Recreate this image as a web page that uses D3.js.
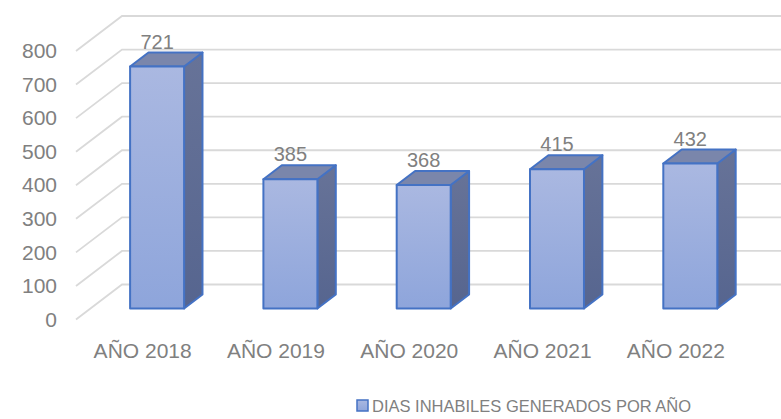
<!DOCTYPE html>
<html>
<head>
<meta charset="utf-8">
<script src="https://cdn.jsdelivr.net/npm/d3@7"></script>
<style>
  html, body { margin: 0; padding: 0; background: #fff; }
  svg { display: block; font-family: "Liberation Sans", Arial, sans-serif; }
</style>
</head>
<body>
<svg id="chart" width="781" height="419"></svg>
<script>
const categories = ["AÑO 2018", "AÑO 2019", "AÑO 2020", "AÑO 2021", "AÑO 2022"];
const values = [721, 385, 368, 415, 432];
const yTicks = [0, 100, 200, 300, 400, 500, 600, 700, 800];
const seriesName = "DIAS INHABILES GENERADOS POR AÑO";

const svg = d3.select("#chart");
const W = 781;

// front-plane scales
const x = d3.scaleBand().domain(categories).range([76, 742.5])
  .paddingInner(0.595).paddingOuter(0.2975);
const y = d3.scaleLinear().domain([0, 800]).range([319.5, 51]);

// depth projection
const DX = 46, DY = -35;
const P = (px, py, d) => [px + DX * d, py + DY * d];
const D0 = 0.314, D1 = 0.714;

const defs = svg.append("defs");
const gFront = defs.append("linearGradient").attr("id", "gFront")
  .attr("x1", 0).attr("y1", 0).attr("x2", 0).attr("y2", 1);
gFront.append("stop").attr("offset", "0%").attr("stop-color", "#aab8e1");
gFront.append("stop").attr("offset", "100%").attr("stop-color", "#8ea5db");
const gSide = defs.append("linearGradient").attr("id", "gSide")
  .attr("x1", 0).attr("y1", 0).attr("x2", 0).attr("y2", 1);
gSide.append("stop").attr("offset", "0%").attr("stop-color", "#677398");
gSide.append("stop").attr("offset", "100%").attr("stop-color", "#56658f");

// gridlines (back wall + left wall)
const grid = svg.append("g").attr("stroke", "#d9d9d9").attr("stroke-width", 1.8).attr("fill", "none");
yTicks.forEach(t => {
  const a = P(76, y(t), 0), b = P(76, y(t), 1);
  grid.append("path").attr("d", `M${a[0]},${a[1]}L${b[0]},${b[1]}L${W},${b[1]}`);
});

// y tick labels via axis
const yAxis = d3.axisLeft(y).tickValues(yTicks).tickSize(0).tickPadding(0);
const ya = svg.append("g").attr("transform", "translate(57,0)").call(yAxis);
ya.select(".domain").remove();
ya.selectAll("text").attr("font-size", 21).attr("fill", "#808080")
  .attr("font-family", "Liberation Sans, Arial, sans-serif");

// bars
const line = d3.line();
const bars = svg.append("g");
categories.forEach((c, i) => {
  const v = values[i];
  const x0 = x(c), x1 = x(c) + x.bandwidth();
  const yb = y(0), yt = y(v);
  const fbl = P(x0, yb, D0), fbr = P(x1, yb, D0), ftl = P(x0, yt, D0), ftr = P(x1, yt, D0);
  const bbr = P(x1, yb, D1), btl = P(x0, yt, D1), btr = P(x1, yt, D1);
  const g = bars.append("g").attr("stroke", "#4472c4").attr("stroke-width", 2).attr("stroke-linejoin", "round");
  g.append("path").attr("d", line([ftr, btr, bbr, fbr]) + "Z").attr("fill", "url(#gSide)");
  g.append("path").attr("d", line([ftl, btl, btr, ftr]) + "Z").attr("fill", "#7a86ab");
  g.append("path").attr("d", line([ftl, ftr, fbr, fbl]) + "Z").attr("fill", "url(#gFront)");
  // data label
  svg.append("text")
    .attr("x", (ftl[0] + ftr[0]) / 2)
    .attr("y", btl[1] - 4)
    .attr("text-anchor", "middle")
    .attr("font-size", 20)
    .attr("fill", "#808080")
    .text(v);
});

// x axis labels
const xAxis = d3.axisBottom(x).tickSize(0).tickPadding(0);
const xa = svg.append("g").attr("transform", "translate(0,343)").call(xAxis);
xa.select(".domain").remove();
xa.selectAll("text").attr("font-size", 21).attr("fill", "#808080")
  .attr("font-family", "Liberation Sans, Arial, sans-serif");

// legend
const lg = svg.append("g").attr("transform", "translate(357,400)");
lg.append("rect").attr("width", 11).attr("height", 11)
  .attr("fill", "url(#gFront)").attr("stroke", "#4472c4").attr("stroke-width", 1.5);
lg.append("text").attr("x", 15).attr("y", 11.5)
  .attr("font-size", 16.5).attr("fill", "#808080").text(seriesName);
</script>
</body>
</html>
